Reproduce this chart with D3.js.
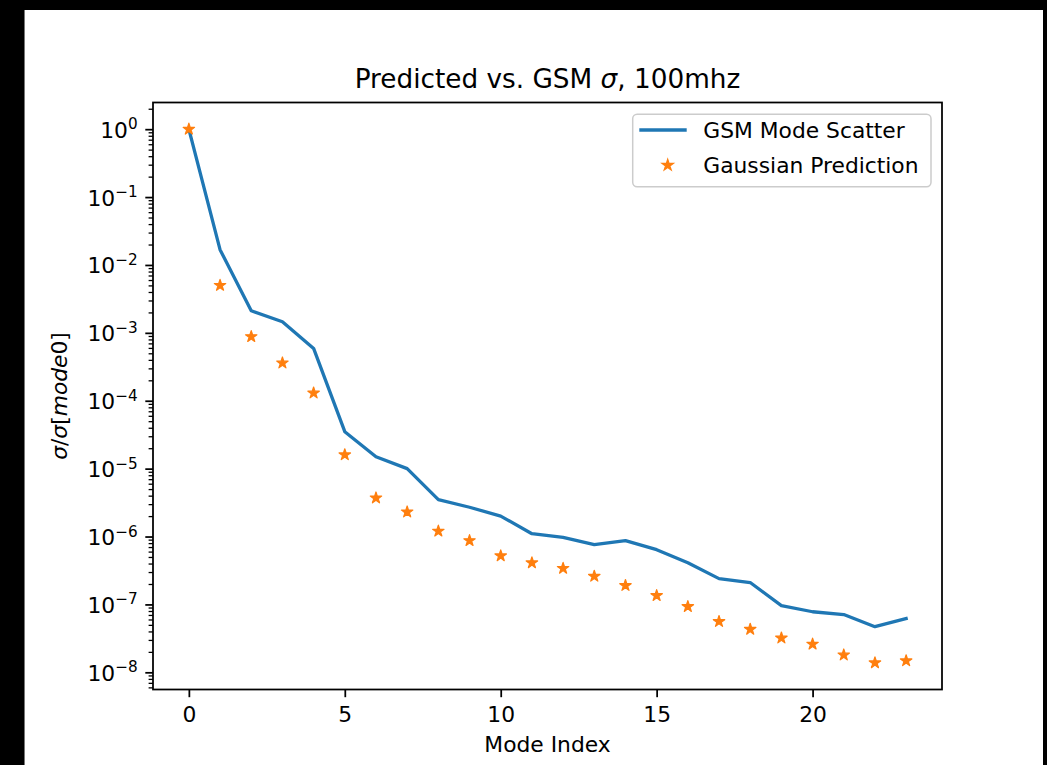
<!DOCTYPE html>
<html>
<head>
<meta charset="utf-8">
<script src="https://cdn.jsdelivr.net/npm/d3@7"></script>
<style>
  body { margin: 0; background: #000; }
  svg { display: block; }
  text { font-family: "DejaVu Sans", sans-serif; fill: #000; }
</style>
</head>
<body>
<svg id="chart" width="1047" height="765"></svg>
<script>
// Mode indices on the x axis
const modeIndex = [0, 1, 2, 3, 4, 5, 6, 7, 8, 9, 10, 11, 12, 13, 14, 15, 16, 17, 18, 19, 20, 21, 22, 23];

// Normalised sigma per mode, GSM scatter
const gsmScatter = [1.0, 1.68e-2, 2.12e-3, 1.46e-3, 5.9e-4, 3.5e-5, 1.5e-5, 1.0e-5,
  3.5e-6, 2.7e-6, 2.0e-6, 1.1e-6, 9.7e-7, 7.6e-7, 8.7e-7, 6.4e-7,
  4.1e-7, 2.4e-7, 2.1e-7, 9.6e-8, 7.8e-8, 7.1e-8, 4.7e-8, 6.2e-8];

// Normalised sigma per mode, Gaussian prediction
const gaussPred = [1.0, 5.0e-3, 8.8e-4, 3.6e-4, 1.3e-4, 1.6e-5, 3.7e-6, 2.3e-6,
  1.2e-6, 8.7e-7, 5.2e-7, 4.1e-7, 3.4e-7, 2.6e-7, 1.9e-7, 1.35e-7,
  9.3e-8, 5.6e-8, 4.3e-8, 3.2e-8, 2.6e-8, 1.8e-8, 1.38e-8, 1.48e-8];

// Axis ticks
const xTicks = [0, 5, 10, 15, 20];
const yExponents = [0, -1, -2, -3, -4, -5, -6, -7, -8];

const titleText = ["Predicted vs. GSM ", "σ", ", 100mhz"];
const legendLabels = ["GSM Mode Scatter", "Gaussian Prediction"];

const C_LINE = "#1f77b4", C_STAR = "#ff7f0e";
const FS = 21.8;          // tick / label font size
const TICK = 7.7, PAD = 7.7, LW = 1.76;

const svg = d3.select("#chart");

// figure background and surrounding frame
svg.append("rect").attr("x", 24).attr("y", 10).attr("width", 1019).attr("height", 755).attr("fill", "#fff");
svg.append("line").attr("x1", 24.5).attr("x2", 24.5).attr("y1", 10).attr("y2", 765)
  .attr("stroke", "#777").attr("stroke-width", 1);

const L = 153, R = 942, T = 102.5, B = 689.5;

// axis limits padded by 5% like the plotting default
const xr = d3.extent(modeIndex), xm = (xr[1] - xr[0]) * 0.05;
const allVals = gsmScatter.concat(gaussPred);
const lr = [Math.log10(d3.min(allVals)), Math.log10(d3.max(allVals))];
const lm = (lr[1] - lr[0]) * 0.05;

const x = d3.scaleLinear().domain([xr[0] - xm, xr[1] + xm]).range([L, R]);
const y = d3.scaleLog().domain([10 ** (lr[0] - lm), 10 ** (lr[1] + lm)]).range([B, T]);

svg.append("clipPath").attr("id", "plot-clip")
  .append("rect").attr("x", L).attr("y", T).attr("width", R - L).attr("height", B - T);

// GSM line
svg.append("path")
  .datum(modeIndex.map((m, i) => [m, gsmScatter[i]]))
  .attr("clip-path", "url(#plot-clip)")
  .attr("fill", "none").attr("stroke", C_LINE).attr("stroke-width", 3.3)
  .attr("stroke-linejoin", "round").attr("stroke-linecap", "square")
  .attr("d", d3.line().x(d => x(d[0])).y(d => y(d[1])));

// five-pointed star marker path centred on the origin
function starPath(r) {
  const ri = r * 0.381966, pts = [];
  for (let k = 0; k < 10; k++) {
    const a = -Math.PI / 2 + k * Math.PI / 5;
    const rr = k % 2 === 0 ? r : ri;
    pts.push([rr * Math.cos(a), rr * Math.sin(a)]);
  }
  return "M" + pts.map(p => p[0].toFixed(2) + "," + p[1].toFixed(2)).join("L") + "Z";
}
const STAR = starPath(6.0);

svg.append("g").attr("clip-path", "url(#plot-clip)")
  .selectAll("path.star")
  .data(modeIndex.map((m, i) => [m, gaussPred[i]]))
  .join("path").attr("class", "star")
  .attr("d", STAR)
  .attr("transform", d => `translate(${x(d[0])},${y(d[1])})`)
  .attr("fill", C_STAR).attr("stroke", C_STAR).attr("stroke-width", 1.2)
  .attr("stroke-linejoin", "round");

// x axis
const gx = svg.append("g").attr("transform", `translate(0,${B})`)
  .call(d3.axisBottom(x).tickValues(xTicks).tickSize(TICK).tickPadding(PAD).tickFormat(d3.format("d")));
gx.select(".domain").remove();
gx.selectAll(".tick line").attr("stroke", "#000").attr("stroke-width", LW);
gx.selectAll(".tick text").attr("font-size", FS).attr("fill", "#000")
  .attr("font-family", "DejaVu Sans").attr("dy", null).attr("y", 0)
  .attr("transform", `translate(0,${721.7 - B})`);

// y axis: minor ticks
const [d0, d1] = y.domain();
const minor = [];
for (let e = Math.floor(Math.log10(d0)); e <= Math.ceil(Math.log10(d1)); e++) {
  for (let m = 2; m <= 9; m++) {
    const v = m * 10 ** e;
    if (v >= d0 && v <= d1) minor.push(v);
  }
}
const gyMinor = svg.append("g").attr("transform", `translate(${L},0)`)
  .call(d3.axisLeft(y).tickValues(minor).tickSize(4.4).tickFormat(""));
gyMinor.select(".domain").remove();
gyMinor.selectAll(".tick line").attr("stroke", "#000").attr("stroke-width", 1.3);

// y axis: major ticks with power-of-ten labels
const gy = svg.append("g").attr("transform", `translate(${L},0)`)
  .call(d3.axisLeft(y).tickValues(yExponents.map(e => 10 ** e)).tickSize(TICK).tickPadding(PAD).tickFormat(""));
gy.select(".domain").remove();
gy.selectAll(".tick line").attr("stroke", "#000").attr("stroke-width", LW);
gy.selectAll(".tick").each(function (d) {
  const e = Math.round(Math.log10(d));
  const t = d3.select(this).append("text")
    .attr("x", -(TICK + PAD)).attr("y", 8)
    .attr("text-anchor", "end").attr("font-size", FS).attr("fill", "#000");
  t.append("tspan").text("10");
  t.append("tspan").attr("font-size", FS * 0.7).attr("dy", -8.5)
    .text(e < 0 ? "\u2212" + Math.abs(e) : String(e));
});

// spines
svg.append("rect").attr("x", L).attr("y", T).attr("width", R - L).attr("height", B - T)
  .attr("fill", "none").attr("stroke", "#000").attr("stroke-width", LW);

// title
const title = svg.append("text").attr("x", (L + R) / 2).attr("y", 87.5)
  .attr("text-anchor", "middle").attr("font-size", 26.3);
title.append("tspan").text(titleText[0]);
title.append("tspan").attr("font-style", "italic").text(titleText[1]);
title.append("tspan").text(titleText[2]);

// axis labels
svg.append("text").attr("x", (L + R) / 2).attr("y", 751.5)
  .attr("text-anchor", "middle").attr("font-size", FS).text("Mode Index");

const yl = svg.append("text")
  .attr("transform", `translate(67,${(T + B) / 2}) rotate(-90)`)
  .attr("text-anchor", "middle").attr("font-size", FS);
yl.append("tspan").attr("font-style", "italic").text("σ");
yl.append("tspan").text("/");
yl.append("tspan").attr("font-style", "italic").text("σ");
yl.append("tspan").text("[");
yl.append("tspan").attr("font-style", "italic").text("mode");
yl.append("tspan").text("0]");

// legend
const lg = svg.append("g");
lg.append("rect").attr("x", 632.7).attr("y", 114.3).attr("width", 298.3).attr("height", 72.4)
  .attr("rx", 4.4).attr("fill", "#fff").attr("fill-opacity", 0.8)
  .attr("stroke", "#cccccc").attr("stroke-width", 1.5);
lg.append("line").attr("x1", 639.3).attr("x2", 686.7).attr("y1", 130).attr("y2", 130)
  .attr("stroke", C_LINE).attr("stroke-width", 3.3);
lg.append("path").attr("d", STAR).attr("transform", "translate(667.7,165.2)")
  .attr("fill", C_STAR).attr("stroke", C_STAR).attr("stroke-width", 1.2);
lg.selectAll("text.lbl").data(legendLabels).join("text").attr("class", "lbl")
  .attr("x", 703.3).attr("y", (d, i) => 137.8 + i * 35.2)
  .attr("font-size", FS).text(d => d);
</script>
</body>
</html>
